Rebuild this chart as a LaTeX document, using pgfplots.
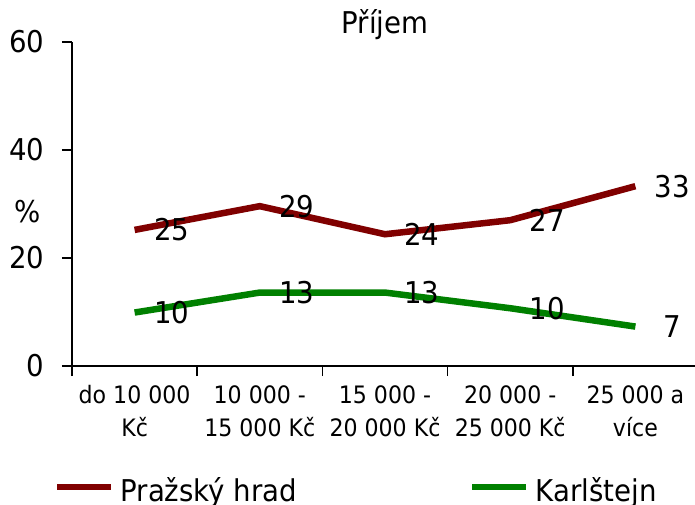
\documentclass[border=0pt]{standalone}
\usepackage{pgfplots}
\pgfplotsset{compat=1.18}
\usepackage{fontspec}
\setmainfont{DejaVu Sans}[FakeStretch=0.92]

\definecolor{hrad}{RGB}{128,0,0}
\definecolor{karl}{RGB}{0,128,0}

\begin{document}
\begin{tikzpicture}
\begin{axis}[
  scale only axis, width=626pt, height=324pt,
  xmin=-0.5, xmax=4.5, ymin=0, ymax=60,
  clip=false,
  axis x line=bottom, axis y line=left,
  axis line style={line width=1.5pt, -},
  ytick={0,20,40,60},
  xtick={-0.5,0.5,1.5,2.5,3.5,4.5},
  xticklabels={},
  extra x ticks={0,1,2,3,4},
  extra x tick labels={{do 10 000\\Kč},{10 000 -\\15 000 Kč},{15 000 -\\20 000 Kč},{20 000 -\\25 000 Kč},{25 000 a\\více}},
  extra x tick style={major tick length=0pt},
  tick align=outside, major tick length=10pt,
  tick style={line width=1.5pt, black},
  /pgf/number format/assume math mode=true,
  yticklabel style={font=\fontsize{30}{36}\selectfont, xshift=-14pt},
  xticklabel style={align=center, font=\fontsize{24}{33}\selectfont, yshift=-16pt},
  ylabel={\%},
  ylabel style={rotate=-90, at={(axis description cs:-0.0703,0.444)}, anchor=base, font=\fontsize{30}{36}\selectfont},
  title={Příjem},
  title style={at={(0.5,1.009)}, anchor=base, font=\fontsize{30}{36}\selectfont},
  every node near coord/.append style={black, anchor=center, xshift=37pt, font=\fontsize{30}{36}\selectfont},
  legend columns=2,
  legend style={at={(-0.029,-0.3827)}, anchor=west, draw=none, fill=none, inner sep=0pt,
    font=\fontsize{30}{36}\selectfont, nodes={inner sep=0pt},
    /tikz/every odd column/.append style={column sep=6pt},
    /tikz/every even column/.append style={column sep=172pt}},
  legend image code/.code={\draw[#1, line width=6.5pt] (0pt,3pt) -- (54pt,3pt);},
]
\addplot[hrad, line width=6.5pt, nodes near coords, point meta=explicit symbolic]
  coordinates {(0,25.2)[25] (1,29.6)[29] (2,24.4)[24] (3,27.0)[27] (4,33.3)[33]};
\addlegendentry{Pražský hrad}
\addplot[karl, line width=6.5pt, nodes near coords, point meta=explicit symbolic]
  coordinates {(0,9.9)[10] (1,13.6)[13] (2,13.6)[13] (3,10.7)[10] (4,7.3)[7]};
\addlegendentry{Karlštejn}
\coordinate (o) at (rel axis cs:0,0);
\end{axis}
\pgfresetboundingbox
\path (o) ++(-72pt,-139pt) rectangle ++(695pt,505pt);
\end{tikzpicture}
\end{document}
